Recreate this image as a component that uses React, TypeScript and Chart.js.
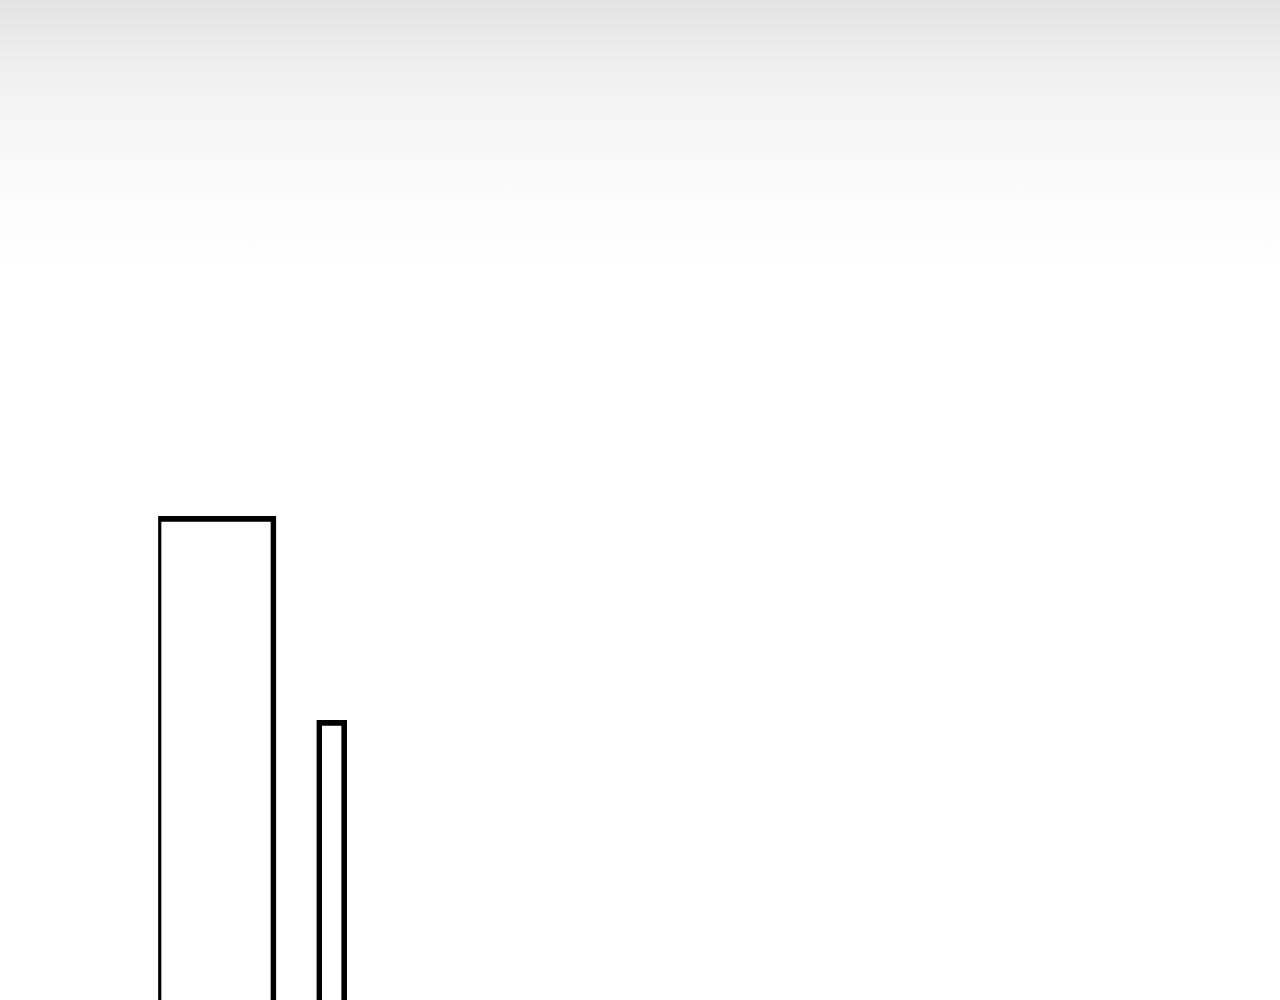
import React, { useEffect, useRef } from 'react';
import Chart from 'chart.js/auto';

const categories = ['A', 'B'];
const tallValues = [60.9, null];
const shortValues = [null, 45.2];
const yMin = 0;
const yMax = 100;

const App: React.FC = () => {
  const canvasRef = useRef<HTMLCanvasElement>(null);
  const chartRef = useRef<Chart | null>(null);

  useEffect(() => {
    if (!canvasRef.current) return;
    if (chartRef.current) chartRef.current.destroy();

    chartRef.current = new Chart(canvasRef.current, {
      type: 'bar',
      data: {
        labels: categories,
        datasets: [
          {
            label: 'tall',
            data: tallValues,
            backgroundColor: 'rgba(255, 255, 255, 0)',
            borderColor: '#000',
            borderWidth: 5,
            borderSkipped: false,
            barThickness: 120,
            grouped: false,
          },
          {
            label: 'short',
            data: shortValues,
            backgroundColor: 'rgba(255, 255, 255, 0)',
            borderColor: '#000',
            borderWidth: 5,
            borderSkipped: false,
            barThickness: 30,
            grouped: false,
          },
        ],
      },
      options: {
        responsive: true,
        maintainAspectRatio: false,
        animation: false,
        layout: { padding: { left: 150.15, right: 882.45, top: 0, bottom: 0 } },
        scales: {
          x: { display: false, offset: true },
          y: { display: false, min: yMin, max: yMax },
        },
        plugins: {
          legend: { display: false },
          tooltip: { enabled: false },
        },
      },
    });

    return () => {
      if (chartRef.current) {
        chartRef.current.destroy();
        chartRef.current = null;
      }
    };
  }, []);

  return (
    <>
      <div
        style={{
          position: 'fixed',
          top: 0,
          left: 0,
          width: '100%',
          height: 320,
          zIndex: -1,
          background:
            'linear-gradient(#e3e3e3 0px, #eeeeee 60px, #f5f5f5 120px, #fafafa 180px, #fdfdfd 230px, #ffffff 280px)',
        }}
      />
      <div style={{ position: 'relative', height: 1300 }}>
        <canvas ref={canvasRef} />
      </div>
    </>
  );
};

export default App;
